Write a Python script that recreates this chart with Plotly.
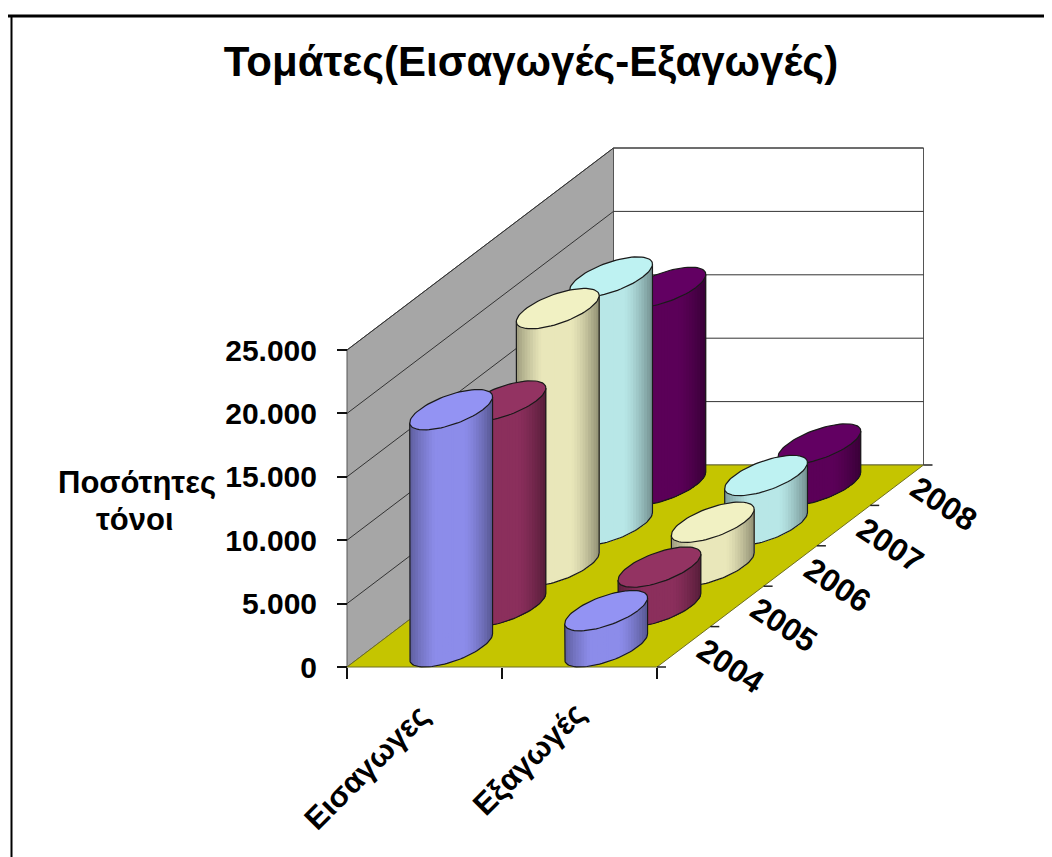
import numpy as np
import plotly.graph_objects as go

TITLE = "Τομάτες(Εισαγωγές-Εξαγωγές)"
CATEGORIES = ["Εισαγωγες", "Εξαγωγές"]
YEARS = ["2004", "2005", "2006", "2007", "2008"]
IMPORTS = [18700, 16200, 20300, 19600, 15600]
EXPORTS = [2850, 3100, 3450, 3950, 3250]
VALUE_TICKS = [0, 5000, 10000, 15000, 20000, 25000]
Y_TITLE_LINES = ["Ποσότητες", "τόνοι"]
SIDE_COLORS = ["#8C8CEA", "#8B2F5C", "#E9E7BA", "#B8E7E7", "#5B0058"]
TOP_COLORS = ["#9393F3", "#933362", "#F1F1C3", "#BEF2F2", "#620062"]

PAGE_MARGIN = 8              # the page body offsets the figure by this much
W, H = 1052 - PAGE_MARGIN, 857 - PAGE_MARGIN
X0, Y0 = 347 - PAGE_MARGIN, 667 - PAGE_MARGIN   # pixel position of the chart origin
PX_CAT = 155.0               # pixels per category
PX_VAL = 63.4 / 5000.0       # pixels per tonne
DX = 53.3 / PX_CAT           # oblique shift per year (category units)
DY = 40.4 / PX_VAL           # oblique shift per year (tonnes)
RX = 31.7 / PX_CAT           # cylinder half-width along the category axis
RD = 0.5                     # cylinder half-width along the depth axis
FONT = "Liberation Sans"
VMAX = VALUE_TICKS[-1]
NCAT, NDEPTH = len(CATEGORIES), len(YEARS)


def proj(cat, depth, val):
    return cat + np.asarray(depth) * DX, val + np.asarray(depth) * DY


def poly(xs, ys, fill, line=None, width=0):
    return go.Scatter(x=list(xs), y=list(ys), mode="lines", fill="toself", fillcolor=fill,
                      line=dict(color=line or fill, width=width), hoverinfo="skip", showlegend=False)


def path(xs, ys, color="#1a1a1a", width=1.2):
    return go.Scatter(x=list(xs), y=list(ys), mode="lines", line=dict(color=color, width=width),
                      hoverinfo="skip", showlegend=False)


def shade(hex_color, f):
    r, g, b = (int(hex_color[i:i + 2], 16) for i in (1, 3, 5))
    return f"rgb({r * f:.0f},{g * f:.0f},{b * f:.0f})"


def shade_factor(u):
    # dark rim on both sides, flat in the middle
    if u < 0.3:
        return 0.66 + (1 - 0.66) * (u / 0.3) ** 0.8
    if u > 0.65:
        return 1 - (1 - 0.62) * ((u - 0.65) / 0.35) ** 1.4
    return 1.0


fig = go.Figure()

# walls and floor
wx, wy = zip(proj(0, 0, 0), proj(0, NDEPTH, 0), proj(0, NDEPTH, VMAX), proj(0, 0, VMAX), proj(0, 0, 0))
fig.add_trace(poly(wx, wy, "#A6A6A6", "#555555", 1))
bx, by = zip(proj(0, NDEPTH, 0), proj(NCAT, NDEPTH, 0), proj(NCAT, NDEPTH, VMAX), proj(0, NDEPTH, VMAX), proj(0, NDEPTH, 0))
fig.add_trace(poly(bx, by, "#FFFFFF", "#555555", 1))
fx, fy = zip(proj(0, 0, 0), proj(NCAT, 0, 0), proj(NCAT, NDEPTH, 0), proj(0, NDEPTH, 0), proj(0, 0, 0))
fig.add_trace(poly(fx, fy, "#C5C500", "#6f6f20", 1))

# gridlines on the walls
for v in VALUE_TICKS[1:]:
    gx, gy = zip(proj(0, 0, v), proj(0, NDEPTH, v), proj(NCAT, NDEPTH, v))
    fig.add_trace(path(gx, gy, "#333333", 1))

# depth-axis tick marks
for d in range(NDEPTH + 1):
    x, y = proj(NCAT, d, 0)
    fig.add_trace(path([x, x + 9 / PX_CAT], [y, y], "#222222", 1.5))


def cylinder(cat_index, depth_index, value, side, top):
    cat_c = cat_index + 0.5
    dep_c = depth_index + 0.5
    a, b = RX, RD * DX
    c = RD * DY
    t0 = np.arctan2(b, a)

    def ring(t, level):
        return (cat_c + dep_c * DX + a * np.cos(t) + b * np.sin(t),
                level + dep_c * DY + c * np.sin(t))

    us = np.linspace(0, 1, 31)
    ts = t0 + np.pi + np.arccos(1 - 2 * us)
    # each band runs to the right silhouette; the next band paints over it, so no seams show
    for i in range(len(us) - 1):
        tt = np.linspace(ts[i], ts[-1], 24)
        xb, yb = ring(tt, 0)
        xt, yt = ring(tt[::-1], value)
        col = shade(side, shade_factor((us[i] + us[i + 1]) / 2))
        fig.add_trace(poly(np.r_[xb, xt, xb[0]], np.r_[yb, yt, yb[0]], col))
    # outline of the side
    tt = np.linspace(ts[0], ts[-1], 50)
    xb, yb = ring(tt, 0)
    xl, yl = ring(np.array([ts[0]]), value)
    xr, yr = ring(np.array([ts[-1]]), value)
    fig.add_trace(path(np.r_[xl, xb, xr], np.r_[yl, yb, yr]))
    # top face
    tt = np.linspace(0, 2 * np.pi, 80)
    xt, yt = ring(tt, value)
    fig.add_trace(poly(xt, yt, top, "#1a1a1a", 1.2))


for d in range(NDEPTH - 1, -1, -1):
    cylinder(0, d, IMPORTS[d], SIDE_COLORS[d], TOP_COLORS[d])
    cylinder(1, d, EXPORTS[d], SIDE_COLORS[d], TOP_COLORS[d])

annotations = []
yr_font = dict(family=FONT, size=32, color="black", weight=700)
cat_font = dict(family=FONT, size=31, color="black", weight=700)
for d, yr in enumerate(YEARS):
    x, y = proj(NCAT, d + 0.5, 0)
    annotations.append(dict(x=x, y=y, xref="x", yref="y", text=yr, showarrow=False, font=yr_font,
                            textangle=33, xshift=47, yshift=-19))
annotations.append(dict(x=0.5, y=0, xref="x", yref="y", text=CATEGORIES[0], showarrow=False, font=cat_font,
                        textangle=-45, xshift=-58, yshift=-100))
annotations.append(dict(x=1.5, y=0, xref="x", yref="y", text=CATEGORIES[1], showarrow=False, font=cat_font,
                        textangle=-45, xshift=-51, yshift=-92))
ty_font = dict(family=FONT, size=31, color="black", weight=700)
annotations.append(dict(x=(136.5 - PAGE_MARGIN) / W, y=1 - (482 - PAGE_MARGIN) / H, xref="paper", yref="paper",
                        xanchor="center", yanchor="middle", text=Y_TITLE_LINES[0], showarrow=False, font=ty_font))
annotations.append(dict(x=(135 - PAGE_MARGIN) / W, y=1 - (520 - PAGE_MARGIN) / H, xref="paper", yref="paper",
                        xanchor="center", yanchor="middle", text=Y_TITLE_LINES[1], showarrow=False, font=ty_font))

fig.update_layout(
    width=W, height=H, autosize=False,
    margin=dict(l=0, r=0, t=0, b=0, pad=0),
    paper_bgcolor="white", plot_bgcolor="white",
    separators=",.",
    showlegend=False,
    title=dict(text=TITLE, x=(531 - PAGE_MARGIN) / W, y=1 - (61 - PAGE_MARGIN) / H, xanchor="center", yanchor="middle",
               xref="paper", yref="paper",
               font=dict(family=FONT, size=42, color="black", weight=700)),
    annotations=annotations,
    xaxis=dict(range=[-X0 / PX_CAT, (W - X0) / PX_CAT], domain=[0, 1], anchor="free", position=1 - Y0 / H,
               tickvals=[0, 1, 2], showticklabels=False, ticks="outside", ticklen=11, tickwidth=2, tickcolor="#111111",
               showgrid=False, zeroline=False, showline=False, fixedrange=True),
    yaxis=dict(range=[(Y0 - H) / PX_VAL, Y0 / PX_VAL], domain=[0, 1], anchor="free", position=X0 / W,
               tickvals=VALUE_TICKS, tickformat=",d", ticks="outside", ticklen=10, tickwidth=2, tickcolor="#111111",
               ticklabelstandoff=14,
               tickfont=dict(family=FONT, size=30, color="black", weight=700),
               showgrid=False, zeroline=False, showline=False, fixedrange=True),
    shapes=[
        dict(type="line", xref="paper", yref="paper", x0=0, x1=1, y0=1 - 8 / H, y1=1 - 8 / H,
             line=dict(color="black", width=3)),
        dict(type="line", xref="paper", yref="paper", x0=3.5 / W, x1=3.5 / W, y0=0, y1=1 - 8 / H,
             line=dict(color="black", width=2)),
    ],
)

fig.write_html("out.html", config=dict(displayModeBar=False))
